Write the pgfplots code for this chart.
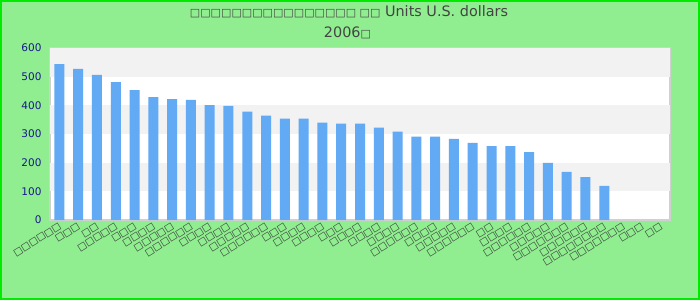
\documentclass[border=0pt]{standalone}
\usepackage{fontspec}
\setmainfont{DejaVu Sans}
\usepackage{pgfplots}
\pgfplotsset{compat=1.18}
\definecolor{bg}{RGB}{144,238,144}
\definecolor{bord}{RGB}{0,235,0}
\definecolor{barc}{RGB}{98,170,244}
\definecolor{band}{RGB}{242,242,242}
\definecolor{frame}{RGB}{208,208,208}
\definecolor{ytc}{RGB}{24,24,140}
\definecolor{titc}{RGB}{68,68,68}
\newcommand\T{□}
\begin{document}
\begin{tikzpicture}[x=1pt,y=1pt]
\fill[bg] (0,0) rectangle (700,300);
\draw[bord, line width=2pt] (1,1) rectangle (699,299);
\node[text=titc, font=\fontsize{14.4}{16}\selectfont, inner sep=0pt] at (349,288) {{\fontsize{11}{12}\selectfont\T\T\T\T\T\T\T\T\T\T\T\T\T\T\T\T\ \T\T} Units U.S. dollars};
\node[text=titc, font=\fontsize{14.4}{16}\selectfont, inner sep=0pt] at (347.5,267) {2006{\fontsize{11}{12}\selectfont\T}};
\begin{axis}[
  at={(50pt,80pt)}, anchor=south west,
  scale only axis, width=620pt, height=172pt,
  ybar, bar width=10pt,
  xmin=-0.5, xmax=32.5, ymin=0, ymax=600,
  xtick={0,...,32},
  xticklabels={\T\T\T\T\T\T,\T\T\T,\T\T,\T\T\T\T\T,\T\T\T,\T\T\T\T,\T\T\T\T\T,\T\T\T\T\T\T,\T\T\T\T,\T\T\T\T,\T\T\T\T\T,\T\T\T\T\T\T,\T\T\T,\T\T\T\T,\T\T\T\T,\T\T\T,\T\T\T\T,\T\T\T\T,\T\T\T\T,\T\T\T\T\T\T,\T\T\T\T,\T\T\T\T\T,\T\T\T\T\T\T,\T\T,\T\T\T\T,\T\T\T\T\T\T,\T\T\T\T\T,\T\T\T\T\T\T\T,\T\T\T\T\T\T,\T\T\T\T\T\T\T\T,\T\T\T\T\T\T\T,\T\T\T,\T\T},
  x tick label style={rotate=32, anchor=east, font=\fontsize{9.5}{10}\selectfont, text=black!80, inner sep=1pt, yshift=-5pt, xshift=-1pt},
  ytick={0,100,...,600},
  y tick label style={font=\fontsize{10.5}{12}\selectfont, text=ytc, xshift=-5pt},
  /pgf/number format/assume math mode=true,
  major tick length=0pt,
  axis line style={frame, line width=1.3pt},
  axis background/.style={fill=white},
  axis on top=false,
]
\fill[band] (axis cs:-0.5,100) rectangle (axis cs:32.5,200);
\fill[band] (axis cs:-0.5,300) rectangle (axis cs:32.5,400);
\fill[band] (axis cs:-0.5,500) rectangle (axis cs:32.5,600);
\addplot[fill=barc, draw=none] coordinates {
(0,544) (1,527) (2,506) (3,481) (4,453) (5,429) (6,422) (7,419) (8,401) (9,398)
(10,378) (11,364) (12,354) (13,354) (14,340) (15,336) (16,336) (17,322) (18,308) (19,291)
(20,291) (21,283) (22,269) (23,258) (24,258) (25,237) (26,199) (27,168) (28,150) (29,119)
};
\end{axis}
\end{tikzpicture}
\end{document}
